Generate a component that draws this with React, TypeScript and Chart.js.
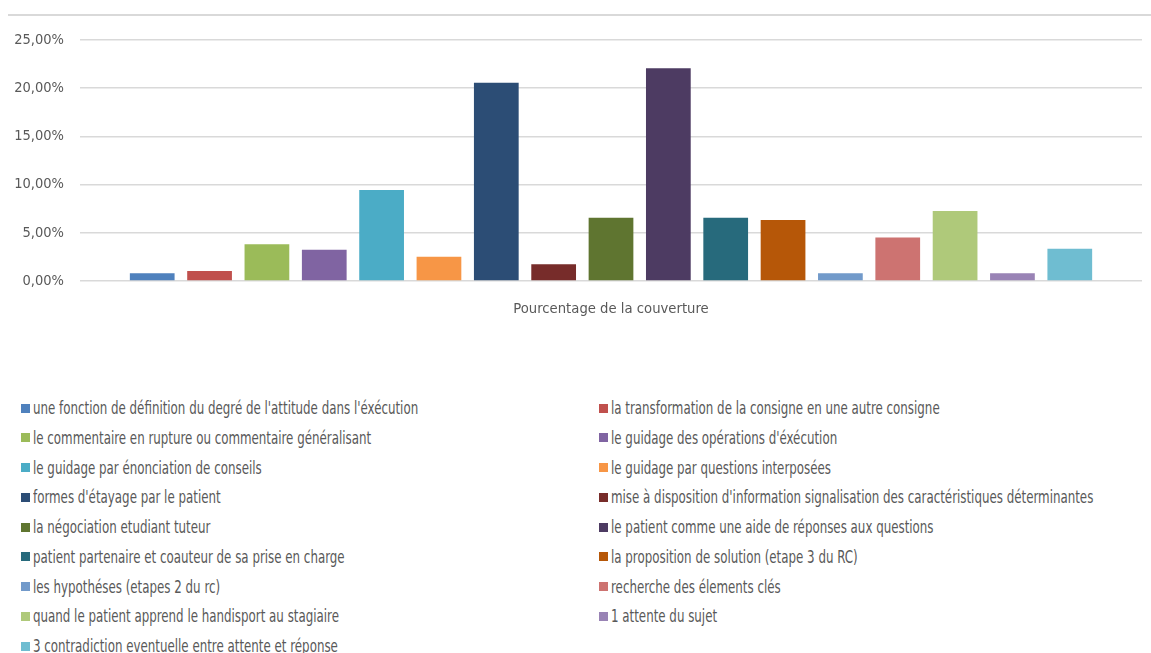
import React, { useEffect, useRef } from "react";
import { Chart, registerables } from "chart.js";

Chart.register(...registerables);

const categories = [""];
const xAxisTitle = "Pourcentage de la couverture";
const seriesNames = [
  "une fonction de définition du degré de l'attitude dans l'éxécution",
  "la transformation de la consigne en une autre consigne",
  "le commentaire en rupture ou commentaire généralisant",
  "le guidage des opérations d'éxécution",
  "le guidage par énonciation de conseils",
  "le guidage par questions interposées",
  "formes d'étayage par le patient",
  "mise à disposition d'information signalisation des caractéristiques déterminantes",
  "la négociation etudiant tuteur",
  "le patient comme une aide de réponses aux questions",
  "patient partenaire et coauteur de sa prise en charge",
  "la proposition de solution (etape 3 du RC)",
  "les hypothéses (etapes 2 du rc)",
  "recherche des élements clés",
  "quand le patient apprend le handisport au stagiaire",
  "1 attente du sujet",
  "3 contradiction eventuelle entre attente et réponse",
];
const seriesValues = [
  0.8, 1.04, 3.8, 3.25, 9.44, 2.52, 20.57, 1.73, 6.57, 22.06, 6.57, 6.33, 0.8, 4.5, 7.26, 0.8, 3.35,
];
const seriesColors = [
  "#4F81BD", "#C0504D", "#9BBB59", "#8064A2", "#4BACC6", "#F79646",
  "#2C4D75", "#772C2A", "#5F7530", "#4D3B62", "#276A7C", "#B65708",
  "#729ACA", "#CD7371", "#AFC97A", "#9983B5", "#6FBDD1",
];
const yTicks = [0, 5, 10, 15, 20, 25];

const FONT = "'DejaVu Sans Condensed', 'Liberation Sans', sans-serif";
const TEXT = "#595959";

export default function App() {
  const ref = useRef<HTMLCanvasElement | null>(null);

  useEffect(() => {
    document.body.style.margin = "0";
    if (!ref.current) return;
    const chart = new Chart(ref.current, {
      type: "bar",
      data: {
        labels: categories,
        datasets: seriesNames.map((name, i) => ({
          label: name,
          data: [seriesValues[i]],
          backgroundColor: seriesColors[i],
          borderWidth: 0,
          categoryPercentage: 0.918,
          barPercentage: 0.78,
        })),
      },
      options: {
        animation: false,
        responsive: false,
        maintainAspectRatio: false,
        layout: { padding: { left: 0, right: 9, top: 40, bottom: 12 } },
        plugins: {
          legend: { display: false },
          tooltip: { enabled: false },
        },
        scales: {
          x: {
            grid: { display: false, drawTicks: false },
            border: { display: false },
            ticks: { display: false },
            title: {
              display: true,
              text: xAxisTitle,
              color: TEXT,
              font: { family: FONT, size: 14.7 },
              padding: { top: 19.4, bottom: 0 },
            },
          },
          y: {
            min: 0,
            max: 25,
            afterBuildTicks: (scale: any) => {
              scale.ticks = yTicks.map((v) => ({ value: v }));
            },
            afterFit: (scale: any) => {
              scale.width = 80;
            },
            grid: { color: "#D9D9D9", lineWidth: 1.5, drawTicks: false },
            border: { display: false },
            ticks: {
              padding: 16,
              color: TEXT,
              font: { family: FONT, size: 14.5 },
              callback: (v: any) => Number(v).toFixed(2).replace(".", ",") + "%",
            },
          },
        },
      },
    });
    return () => chart.destroy();
  }, []);

  const rowY = (i: number) => 408 + i * 29.75;

  return (
    <div style={{ position: "absolute", left: 0, top: 0, width: 1151, height: 653, background: "#fff", overflow: "hidden" }}>
      <div style={{ position: "absolute", left: 8, top: 14, width: 1143, height: 0, borderTop: "2px solid #D9D9D9" }} />
      <canvas ref={ref} width={1151} height={330} style={{ position: "absolute", left: 0, top: 0 }} />
      {seriesNames.map((name, i) => {
        const col = i % 2;
        const row = Math.floor(i / 2);
        const left = col === 0 ? 21 : 599;
        const cy = rowY(row);
        return (
          <div
            key={i}
            style={{
              position: "absolute",
              left,
              top: cy - 11,
              height: 22,
              lineHeight: "22px",
              whiteSpace: "nowrap",
              fontFamily: FONT,
              fontSize: 17,
              color: TEXT,
              display: "flex",
              alignItems: "center",
            }}
          >
            <span style={{ display: "inline-block", width: 9, height: 9, background: seriesColors[i], marginRight: 3, flex: "none" }} />
            <span style={{ display: "inline-block", transform: "scaleX(0.775)", transformOrigin: "left center" }}>{name}</span>
          </div>
        );
      })}
    </div>
  );
}
